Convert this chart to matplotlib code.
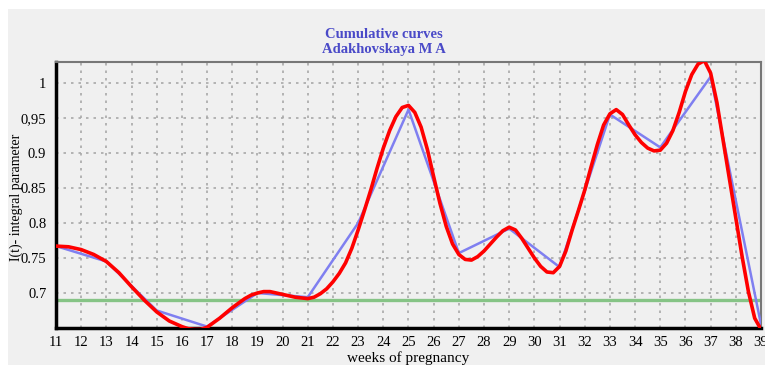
import numpy as np
import matplotlib
matplotlib.use("Agg")
import matplotlib.pyplot as plt
from matplotlib.patches import Rectangle

# values
blue_weeks = [11, 13, 15, 17, 19, 21, 23, 25, 27, 29, 31, 33, 35, 37, 39]
blue_vals = [0.767, 0.745, 0.675, 0.652, 0.700, 0.694, 0.800, 0.962,
             0.757, 0.792, 0.737, 0.955, 0.908, 1.009, 0.655]

# red smoothed curve, read at quarter / half weeks
red_weeks = [11, 11.5, 12, 12.5, 13, 13.5, 14, 14.5, 15, 15.5, 16, 16.25,
             16.5, 16.75, 17, 17.5, 18, 18.5, 18.75, 19, 19.25, 19.5, 20,
             20.5, 21, 21.25, 21.5, 21.75, 22, 22.25, 22.5, 22.75, 23, 23.25,
             23.5, 23.75, 24, 24.25, 24.5, 24.75, 25, 25.25, 25.5, 25.75, 26,
             26.25, 26.5, 26.75, 27, 27.25, 27.5, 27.75, 28, 28.25, 28.5,
             28.75, 29, 29.25, 29.5, 29.75, 30, 30.25, 30.5, 30.75, 31, 31.25,
             31.5, 31.75, 32, 32.25, 32.5, 32.75, 33, 33.25, 33.5, 33.75, 34,
             34.25, 34.5, 34.75, 35, 35.25, 35.5, 35.75, 36, 36.25, 36.5,
             36.75, 37, 37.25, 37.5, 37.75, 38, 38.25, 38.5, 38.75, 39]
red_vals = [0.767, 0.766, 0.762, 0.755, 0.745, 0.729, 0.709, 0.690, 0.673,
            0.660, 0.652, 0.649, 0.648, 0.648, 0.651, 0.664, 0.679, 0.692,
            0.697, 0.700, 0.702, 0.702, 0.698, 0.694, 0.692, 0.694, 0.699,
            0.706, 0.716, 0.728, 0.743, 0.764, 0.790, 0.818, 0.847, 0.878,
            0.907, 0.932, 0.952, 0.965, 0.968, 0.958, 0.937, 0.905, 0.866,
            0.828, 0.795, 0.770, 0.755, 0.748, 0.747, 0.752, 0.760, 0.770,
            0.780, 0.789, 0.794, 0.790, 0.778, 0.764, 0.750, 0.738, 0.730,
            0.729, 0.738, 0.760, 0.790, 0.818, 0.847, 0.880, 0.912, 0.940,
            0.956, 0.962, 0.955, 0.940, 0.926, 0.915, 0.907, 0.903, 0.904,
            0.914, 0.932, 0.958, 0.988, 1.012, 1.027, 1.032, 1.014, 0.972,
            0.917, 0.862, 0.807, 0.752, 0.702, 0.664, 0.648]

threshold = 0.69

x_ticks = list(range(11, 40))
y_ticks = [0.7, 0.75, 0.8, 0.85, 0.9, 0.95, 1.0]
y_tick_labels = ["0.7", "0.75", "0.8", "0.85", "0.9", "0,95", "1"]

serif = ["Liberation Serif", "DejaVu Serif"]
bg = "#f0f0f0"

fig = plt.figure(figsize=(7.65, 3.65), dpi=100, facecolor="white")
# gray panel behind everything (the screenshot has a thin white margin top/left)
fig.patches.append(Rectangle((8 / 765, 0), 1, 1 - 9 / 365, transform=fig.transFigure,
                             facecolor=bg, edgecolor="none", zorder=-10))

ax = fig.add_axes([56 / 765, 1 - 328 / 365, 705 / 765, 266 / 365])
ax.set_facecolor(bg)

ax.axhline(threshold, color="#86c486", lw=2.4, zorder=2)
ax.plot(blue_weeks, blue_vals, color="#7f7ff0", lw=1.8, zorder=3)
ax.plot(red_weeks, red_vals, color="#ff0000", lw=2.6, zorder=4,
        solid_joinstyle="round", solid_capstyle="round")

ax.set_xlim(11, 39)
ax.set_ylim(0.65, 1.03)
ax.set_xticks(x_ticks)
ax.set_xticklabels([str(t) for t in x_ticks], fontfamily=serif, fontsize=10.5)
ax.set_yticks(y_ticks)
ax.set_yticklabels(y_tick_labels, fontfamily=serif, fontsize=10.5)
ax.tick_params(length=0, pad=6)
ax.tick_params(axis="y", pad=7)

ax.grid(True, color="#a8a8a8", linestyle=(0, (1.5, 3)), lw=1.2)
ax.set_axisbelow(True)

for side in ["left", "bottom"]:
    ax.spines[side].set_color("black")
    ax.spines[side].set_linewidth(2.5)
for side in ["top", "right"]:
    ax.spines[side].set_color("#777777")
    ax.spines[side].set_linewidth(1.5)

ax.set_xlabel("weeks of pregnancy", fontfamily=serif, fontsize=11, labelpad=1)
# y label placed by hand so it sits in the narrow left margin like the original
fig.text(16 / 765, 1 - 197 / 365, "I(t)- integral parameter", rotation=90,
         ha="center", va="center", fontfamily=serif, fontsize=10)

fig.text(384 / 765, 1 - 35 / 365, "Cumulative curves", ha="center", va="center",
         fontfamily=serif, fontsize=10.5, fontweight="bold", color="#4a4ac8")
fig.text(384 / 765, 1 - 50 / 365, "Adakhovskaya M A", ha="center", va="center",
         fontfamily=serif, fontsize=10.5, fontweight="bold", color="#4a4ac8")

fig.savefig("out.png", dpi=100, facecolor=fig.get_facecolor())
